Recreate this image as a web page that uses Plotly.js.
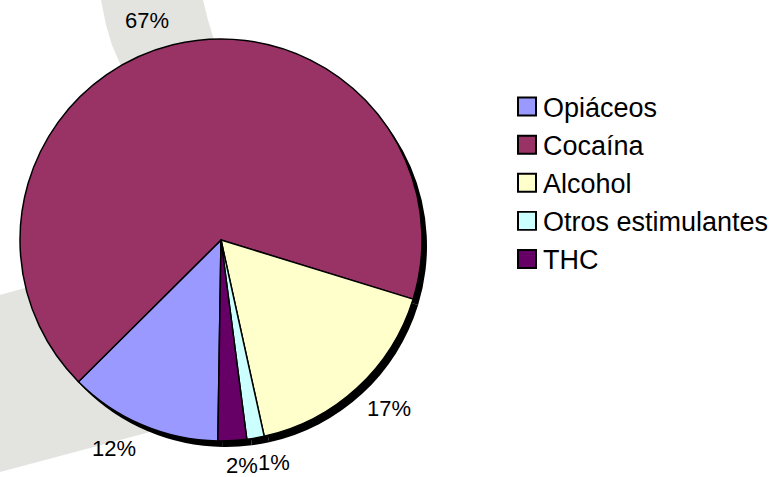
<!DOCTYPE html>
<html>
<head>
<meta charset="utf-8">
<script src="https://cdn.plot.ly/plotly-3.0.1.min.js"></script>
<style>
html,body{margin:0;padding:0;background:#fff;}
#chart{width:783px;height:477px;}
</style>
</head>
<body>
<div id="chart"></div>
<script>
const categories = ["Opiáceos", "Cocaína", "Alcohol", "Otros estimulantes", "THC"];
const shares = [12.3, 67.2, 16.8, 1.4, 2.3];
const sliceColors = ["#9999FF", "#993366", "#FFFFCC", "#CCFFFF", "#660066"];

const W = 783, H = 477;
const px = x => x / W;
const py = y => 1 - y / H;
function pathPx(pts) {
  return pts.map((p, i) => (i ? "L" : "M") + px(p[0]).toFixed(4) + "," + py(p[1]).toFixed(4)).join(" ") + " Z";
}

// pie geometry (pixels)
const cx = 221, cy = 240, r = 201;
const sdx = 5, sdy = 6;
const rot = 180.9;
const FONT = "Liberation Sans, Arial, sans-serif";
const labelSize = 22;

const shadow = {
  type: "pie",
  labels: categories,
  values: shares,
  sort: false,
  direction: "clockwise",
  rotation: rot,
  marker: {colors: categories.map(() => "#000000"), line: {width: 0}},
  textinfo: "none",
  hoverinfo: "skip",
  showlegend: false,
  domain: {x: [px(cx - r + sdx), px(cx + r + sdx)], y: [py(cy + r + sdy), py(cy - r + sdy)]}
};

const pie = {
  type: "pie",
  labels: categories,
  values: shares,
  sort: false,
  direction: "clockwise",
  rotation: rot,
  marker: {colors: sliceColors, line: {color: "#000000", width: 1.5}},
  textinfo: "none",
  hoverinfo: "label+percent",
  domain: {x: [px(cx - r), px(cx + r)], y: [py(cy + r), py(cy - r)]}
};

// percentage labels placed Excel-style: nearest corner of the label on the slice's mid ray
const total = shares.reduce((a, b) => a + b, 0);
function textWidth(t) {
  let w = 0;
  for (const ch of t) w += (ch === "%" ? 0.889 : 0.556);
  return w * labelSize;
}
const labelGap = 15;
const boxes = [];
let cum = 0;
shares.forEach((v, i) => {
  const mid = (rot + (cum + v / 2) / total * 360) * Math.PI / 180;
  cum += v;
  const s = Math.sin(mid), c = Math.cos(mid);
  const R = r + labelGap + (c > 0 ? 3 : 0);
  const x = cx + R * s, y = cy - R * c;
  const txt = Math.round(v / total * 100) + "%";
  const w = textWidth(txt), h = labelSize * 0.75;
  boxes.push({txt, w, h, left: s >= 0 ? x : x - w, top: c >= 0 ? y - h : y});
});
for (let i = 1; i < boxes.length; i++) {
  for (let j = 0; j < i; j++) {
    const a = boxes[i], b = boxes[j];
    const ox = a.left < b.left + b.w && b.left < a.left + a.w;
    const oy = a.top < b.top + b.h && b.top < a.top + a.h;
    if (ox && oy) {
      if (a.left < b.left) a.left = b.left - a.w; else a.left = b.left + b.w;
    }
  }
}
const annotations = boxes.map(b => ({
  xref: "paper", yref: "paper",
  x: px(b.left), y: py(b.top),
  xanchor: "left", yanchor: "top",
  xshift: -2, yshift: 5,
  text: b.txt, showarrow: false,
  font: {family: FONT, size: labelSize, color: "#000000"}
}));

const wm = "#E3E4E0";
const shapes = [
  {type: "path", xref: "paper", yref: "paper", layer: "below", fillcolor: wm, line: {width: 0},
   path: pathPx([[0, 295], [60, 278], [180, 424], [0, 472]])},
  {type: "path", xref: "paper", yref: "paper", layer: "below", fillcolor: wm, line: {width: 0},
   path: pathPx([[101, 0], [106, 25], [112, 45], [125, 75], [225, 75], [214, 40], [208, 20], [203, 0]])}
];

const layout = {
  width: W, height: H,
  margin: {l: 0, r: 0, t: 0, b: 0},
  paper_bgcolor: "#ffffff",
  font: {family: FONT, color: "#000000"},
  shapes: shapes,
  annotations: annotations,
  showlegend: true,
  legend: {
    x: px(503), xanchor: "left",
    y: py(183), yanchor: "middle",
    font: {size: 27, color: "#000000"},
    bgcolor: "rgba(0,0,0,0)",
    traceorder: "normal"
  }
};

Plotly.newPlot("chart", [shadow, pie], layout, {displayModeBar: false, staticPlot: true}).then(gd => {
  gd.querySelectorAll("path.legendpie").forEach(p => {
    p.setAttribute("transform", "translate(24,0) scale(1.5)");
    p.style.strokeWidth = "1.3px";
  });
});
</script>
</body>
</html>
